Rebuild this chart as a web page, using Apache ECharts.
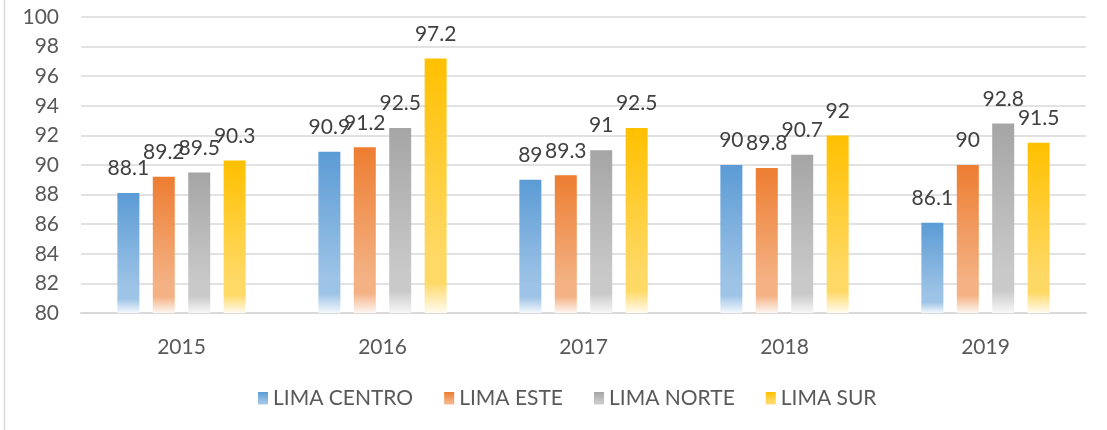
<!DOCTYPE html>
<html><head><meta charset="utf-8">
<script src="https://cdn.jsdelivr.net/npm/echarts@6/dist/echarts.min.js"></script>
<style>html,body{margin:0;padding:0;background:#fff}#c{width:1107px;height:430px}</style>
</head><body><div id="c"></div>
<script>
const categories = ['2015','2016','2017','2018','2019'];
const seriesNames = ['LIMA CENTRO','LIMA ESTE','LIMA NORTE','LIMA SUR'];
const limaCentro = [88.1, 90.9, 89, 90, 86.1];
const limaEste = [89.2, 91.2, 89.3, 89.8, 90];
const limaNorte = [89.5, 92.5, 91, 90.7, 92.8];
const limaSur = [90.3, 97.2, 92.5, 92, 91.5];
const yTicks = [80,82,84,86,88,90,92,94,96,98,100];

const palettes = [
  ['#5B9BD5','#9DC3E6','#F4F8FC'],
  ['#ED7D31','#F4B183','#FDF6F2'],
  ['#A5A5A5','#C9C9C9','#F7F7F7'],
  ['#FFC000','#FFD966','#FFFBF0']
];
function grad(p){
  return new echarts.graphic.LinearGradient(0,0,0,1,[
    {offset:0,color:p[0]},{offset:0.78,color:p[1]},{offset:0.88,color:p[1]},{offset:1,color:p[2]}
  ]);
}
const values = [limaCentro, limaEste, limaNorte, limaSur];
const font = 'Lato, "Open Sans", sans-serif';
const chart = echarts.init(document.getElementById('c'));
chart.setOption({
  animation:false,
  textStyle:{fontFamily:font},
  grid:{left:81,right:21,top:17,bottom:117,containLabel:false},
  legend:{
    bottom:16, left:253, itemWidth:10, itemHeight:13, itemGap:31,
    icon:'rect',
    textStyle:{fontSize:21,color:'#595959',fontFamily:font},
    data:seriesNames
  },
  xAxis:{
    type:'category', data:categories,
    axisLine:{lineStyle:{color:'#D9D9D9',width:2}},
    axisTick:{show:false},
    axisLabel:{fontSize:21,color:'#595959',margin:24,fontFamily:font}
  },
  yAxis:{
    type:'value', min:80, max:100, interval:2,
    axisLine:{show:false}, axisTick:{show:false},
    splitLine:{lineStyle:{color:'#D9D9D9',width:1.5}},
    axisLabel:{fontSize:21,color:'#595959',margin:22,fontFamily:font,
      formatter:v=>yTicks.includes(v)?String(v):''}
  },
  graphic:[{type:'line',shape:{x1:4.5,y1:0,x2:4.5,y2:430},style:{stroke:'#D9D9D9',lineWidth:1.5},silent:true}],
  series: seriesNames.map((n,i)=>({
    name:n, type:'bar', data:values[i], barWidth:22, barGap:'61%',
    itemStyle:{color:grad(palettes[i])},
    label:{show:true, position:'top', distance:14, fontSize:21, color:'#404040', fontFamily:font}
  }))
});
</script></body></html>
